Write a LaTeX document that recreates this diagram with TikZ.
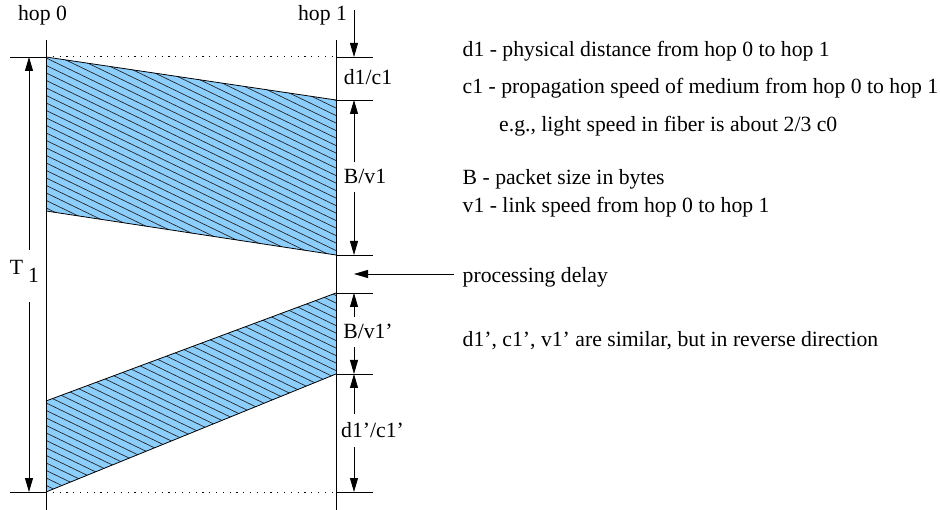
\documentclass[tikz,border=0pt]{standalone}
\usepackage{fontspec}
\setmainfont{Liberation Serif}
\usetikzlibrary{arrows.meta}
\definecolor{ltblue}{HTML}{8CCFFF}

\begin{document}
\begin{tikzpicture}[x=1pt,y=-1pt,
  lbl/.style={font=\fontsize{21.7}{25}\selectfont,inner sep=0pt,anchor=base},
  txt/.style={lbl,anchor=base west},
  dimtip/.style={-{Triangle[length=14pt,width=8pt]},line width=0.8pt},
  tick/.style={line width=0.8pt},
  hatchline/.style={line width=0.7pt,black!85}]
  \useasboundingbox (0,0) rectangle (940,510);
  % corners of the two packets
  \coordinate (a0) at (46,57);  \coordinate (a1) at (336,100);
  \coordinate (b1) at (336,255); \coordinate (b0) at (46,211);
  \coordinate (c1) at (336,293); \coordinate (c0) at (46,401);
  \coordinate (d1) at (336,374); \coordinate (d0) at (46,492);
  \coordinate (dimx) at (354,0);
  % packets, filled and hatched
  \fill[ltblue] (a0)--(a1)--(b1)--(b0)--cycle;
  \fill[ltblue] (c0)--(c1)--(d1)--(d0)--cycle;
  \begin{scope}
    \clip (a0)--(a1)--(b1)--(b0)--cycle (c0)--(c1)--(d1)--(d0)--cycle;
    \foreach \c in {-200,-192.5,...,520}
      \draw[hatchline] (40,\c)--(340,\c+145);
  \end{scope}
  \draw[line width=0.8pt] (a0)--(a1) (b0)--(b1) (c0)--(c1) (d0)--(d1);
  % hop lines
  \node[lbl] (hop0) at (42.5,21) {hop 0};
  \node[lbl] (hop1) at (322.5,21) {hop 1};
  \draw[tick] (46,40)--(46,510);
  \draw[tick] (336,40)--(336,510);
  \draw[dotted,line width=1pt,dash pattern=on 1.2pt off 5.6pt] (a0)--(a1 |- a0);
  \draw[dotted,line width=1pt,dash pattern=on 1.2pt off 5.6pt] (d0)--(d1 |- d0);
  % T1
  \draw[tick] (10,57)--(a0) (10,492)--(d0);
  \node[lbl] (T) at (16.5,275) {T};
  \node[lbl] (Tsub) at (33.5,283) {1};
  \draw[dimtip] (29,250)--(29,57);
  \draw[dimtip] (29,302)--(29,492);
  % dimensions at hop 1
  \foreach \y in {57,100,255,293,374,492}
    \draw[tick] (336,\y)--(373,\y);
  \node[lbl] (dc) at (368,85) {d1/c1};
  \node[lbl] (bv) at (365,184) {B/v1};
  \node[lbl] (bvr) at (368,339) {B/v1’};
  \node[lbl] (dcr) at (372.5,438) {d1’/c1’};
  \draw[dimtip] (354,10)--(354,57);
  \draw[dimtip,shorten <=7pt] (dimx |- bv.north)--(354,100);
  \draw[dimtip,shorten <=8pt] (dimx |- bv.south)--(354,255);
  \draw[dimtip,shorten <=7pt] (dimx |- bvr.north)--(354,293);
  \draw[dimtip,shorten <=8pt] (dimx |- bvr.south)--(354,374);
  \draw[dimtip,shorten <=9pt] (dimx |- dcr.north)--(354,374);
  \draw[dimtip,shorten <=9pt] (dimx |- dcr.south)--(354,492);
  % legend
  \node[txt] (ld) at (462.5,57) {d1 - physical distance from hop 0 to hop 1};
  \node[txt] (lc) at (462.5,94) {c1 - propagation speed of medium from hop 0 to hop 1};
  \node[txt] (le) at (499,132) {e.g., light speed in fiber is about 2/3 c0};
  \node[txt] (lb) at (462.5,185) {B - packet size in bytes};
  \node[txt] (lv) at (462.5,213) {v1 - link speed from hop 0 to hop 1};
  \node[txt] (lp) at (462.5,283) {processing delay};
  \node[txt] (lr) at (462.5,347) {d1’, c1’, v1’ are similar, but in reverse direction};
  \draw[dimtip] (454,274)--(354,274);
\end{tikzpicture}
\end{document}
